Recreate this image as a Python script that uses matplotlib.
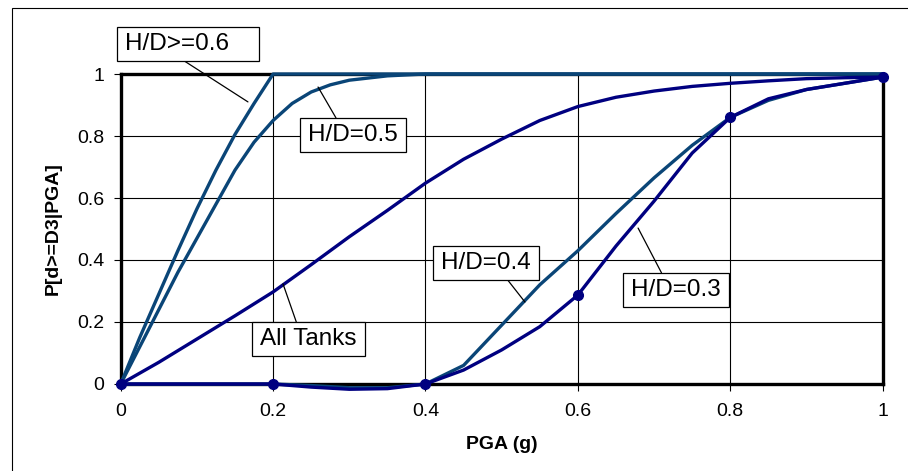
import matplotlib
matplotlib.use("Agg")
import matplotlib.pyplot as plt
from matplotlib.path import Path
from matplotlib.patches import Rectangle

plt.rcParams['font.family'] = ['Liberation Sans', 'DejaVu Sans']

# PGA (g) values and exceedance probabilities
pga = [0.0, 0.05, 0.1, 0.15, 0.2, 0.25, 0.3, 0.35, 0.4, 0.45, 0.5,
       0.55, 0.6, 0.65, 0.7, 0.75, 0.8, 0.85, 0.9, 0.95, 1.0]
hd03 = [0, 0, 0, 0, 0, -0.01, -0.017, -0.015, 0, 0.045, 0.11,
        0.185, 0.287, 0.445, 0.59, 0.745, 0.86, 0.92, 0.95, 0.97, 0.99]
hd04 = [0, 0, 0, 0, 0, -0.005, -0.012, -0.012, 0, 0.06, 0.19,
        0.32, 0.43, 0.55, 0.665, 0.77, 0.86, 0.915, 0.95, 0.97, 0.99]
all_tanks = [0, 0.07, 0.145, 0.22, 0.297, 0.385, 0.475, 0.56, 0.648, 0.725, 0.79,
             0.85, 0.895, 0.925, 0.945, 0.96, 0.97, 0.978, 0.985, 0.988, 0.99]
marked = [0, 4, 8, 12, 16, 20]   # points with dots on H/D=0.3

# the steep curves are read more finely
pga05 = [0.0, 0.025, 0.05, 0.075, 0.1, 0.125, 0.15, 0.175, 0.2, 0.225,
         0.25, 0.275, 0.3, 0.35, 0.4, 1.0]
hd05 = [0, 0.12, 0.24, 0.36, 0.47, 0.58, 0.69, 0.78, 0.85, 0.905,
        0.942, 0.965, 0.98, 0.994, 1.0, 1.0]
pga06 = [0.0, 0.025, 0.05, 0.075, 0.1, 0.125, 0.15, 0.175, 0.2, 1.0]
hd06 = [0, 0.15, 0.29, 0.43, 0.565, 0.69, 0.805, 0.905, 1.0, 1.0]

ticks = [0, 0.2, 0.4, 0.6, 0.8, 1.0]
tick_labels = ['0', '0.2', '0.4', '0.6', '0.8', '1']

NAVY = '#000080'
TEAL = '#0a4577'

fig = plt.figure(figsize=(9.08, 4.71), dpi=100)
ax = fig.add_axes([120.7 / 908, 1 - 384 / 471, 762 / 908, 310 / 471])

# outer chart frame (right and bottom edges fall outside the picture)
fig.patches.append(Rectangle((12 / 908, -0.2), 1.2, 1.2 - 8 / 471,
                             transform=fig.transFigure, fill=False,
                             edgecolor='black', lw=0.8))

kw = dict(lw=2.4, clip_on=False, zorder=3, solid_joinstyle='round')
ax.plot(pga06, hd06, color=TEAL, **kw)
ax.plot(pga05, hd05, color=TEAL, **kw)
ax.plot(pga, hd04, color=TEAL, **kw)
ax.plot(pga, all_tanks, color=NAVY, **kw)
ax.plot(pga, hd03, color=NAVY, marker='o', markersize=7, markevery=marked, **kw)

ax.set_xlim(0, 1)
ax.set_ylim(0, 1)
ax.set_xticks(ticks)
ax.set_xticklabels(tick_labels)
ax.set_yticks(ticks)
ax.set_yticklabels(tick_labels)
ax.grid(True, color='black', lw=0.8)
ax.set_axisbelow(True)
for s in ax.spines.values():
    s.set_linewidth(2.4)
ax.tick_params(direction='out', length=5, width=0.8, labelsize=14, pad=7)
ax.tick_params(axis='x', pad=9)

ax.set_xlabel('PGA (g)', fontsize=14, fontweight='bold', labelpad=11)
ax.set_ylabel('P[d>=D3|PGA]', fontsize=14, fontweight='bold', labelpad=11)


def make_box(extra_right=0.0):
    # plain rectangle, a bit more room at the sides than top/bottom
    def box(x0, y0, width, height, mutation_size):
        px = 0.34 * mutation_size
        py = 0.24 * mutation_size
        x1 = x0 + width + px + extra_right * mutation_size
        y1 = y0 + height + py
        x0, y0 = x0 - px, y0 - py
        return Path([(x0, y0), (x1, y0), (x1, y1), (x0, y1), (x0, y0)], closed=True)
    return box


# (text, text position, point on the curve, where the leader leaves the box, extra box width)
labels = [
    ('H/D>=0.6', (0.0745, 1.096), (0.167, 0.91), (0.48, 0.0), 0.88),
    ('H/D=0.5', (0.3049, 0.803), (0.259, 0.958), (0.35, 1.0), 0.0),
    ('All Tanks', (0.2459, 0.145), (0.213, 0.323), (0.4, 1.0), 0.0),
    ('H/D=0.4', (0.4794, 0.390), (0.5305, 0.2645), (0.69, 0.0), 0.0),
    ('H/D=0.3', (0.7287, 0.303), (0.679, 0.503), (0.375, 1.0), 0.0),
]
for text, xytext, xy, rel, extra in labels:
    ax.annotate(text, xy=xy, xytext=xytext, ha='center', va='center',
                fontsize=17.5, zorder=5, annotation_clip=False,
                bbox=dict(boxstyle=make_box(extra), fc='white', ec='black', lw=0.9),
                arrowprops=dict(arrowstyle='-', color='black', lw=0.9,
                                relpos=rel, shrinkA=0, shrinkB=0))

fig.savefig('out.png', dpi=100)
